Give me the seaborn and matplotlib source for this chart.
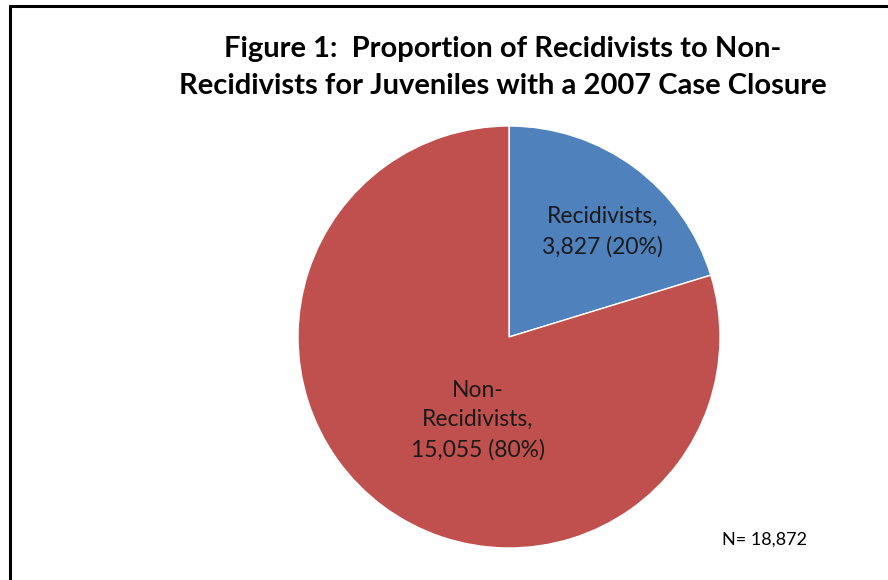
import matplotlib
matplotlib.use("Agg")
import matplotlib.pyplot as plt
import seaborn as sns
from matplotlib.lines import Line2D

categories = ["Recidivists", "Non-\nRecidivists"]
counts = [3827, 15055]
percents = [20, 80]
colors = ["#4F81BD", "#C0504D"]
total_n = 18872
title = "Figure 1:  Proportion of Recidivists to Non-\nRecidivists for Juveniles with a 2007 Case Closure"

sns.set_theme(style="white")
plt.rcParams['font.family'] = ['Lato', 'DejaVu Sans']

fig = plt.figure(figsize=(8.88, 5.80), dpi=100)
fig.patch.set_facecolor("white")

# frame (left and top edges visible)
fig.add_artist(Line2D([9.5/888, 9.5/888], [0, 1 - 5.5/580], transform=fig.transFigure, color="black", lw=2.2))
fig.add_artist(Line2D([9.5/888, 1], [1 - 5.5/580, 1 - 5.5/580], transform=fig.transFigure, color="black", lw=2.2))

ax = fig.add_axes([298/888, 32/580, 422/888, 422/580])
wedges, _ = ax.pie(counts, colors=colors, startangle=90, counterclock=False,
                   wedgeprops=dict(edgecolor="white", linewidth=1))
ax.set_xlim(-1, 1)
ax.set_ylim(-1, 1)
ax.set_aspect("equal")

label_pos = [(0.445, 0.498), (-0.147, -0.393)]
for cat, c, p, (x, y) in zip(categories, counts, percents, label_pos):
    ax.text(x, y, f"{cat},\n{c:,} ({p}%)", ha="center", va="center",
            fontsize=16.5, color="#1a1a1a", linespacing=1.5)

fig.text(503/888, 1 - 67.5/580, title, ha="center", va="center", fontsize=21,
         fontweight="bold", color="black", linespacing=1.5)
fig.text(764/888, 1 - 540/580, f"N= {total_n:,}", ha="center", va="center",
         fontsize=13, color="black")

fig.savefig("out.png", dpi=100, facecolor="white")
